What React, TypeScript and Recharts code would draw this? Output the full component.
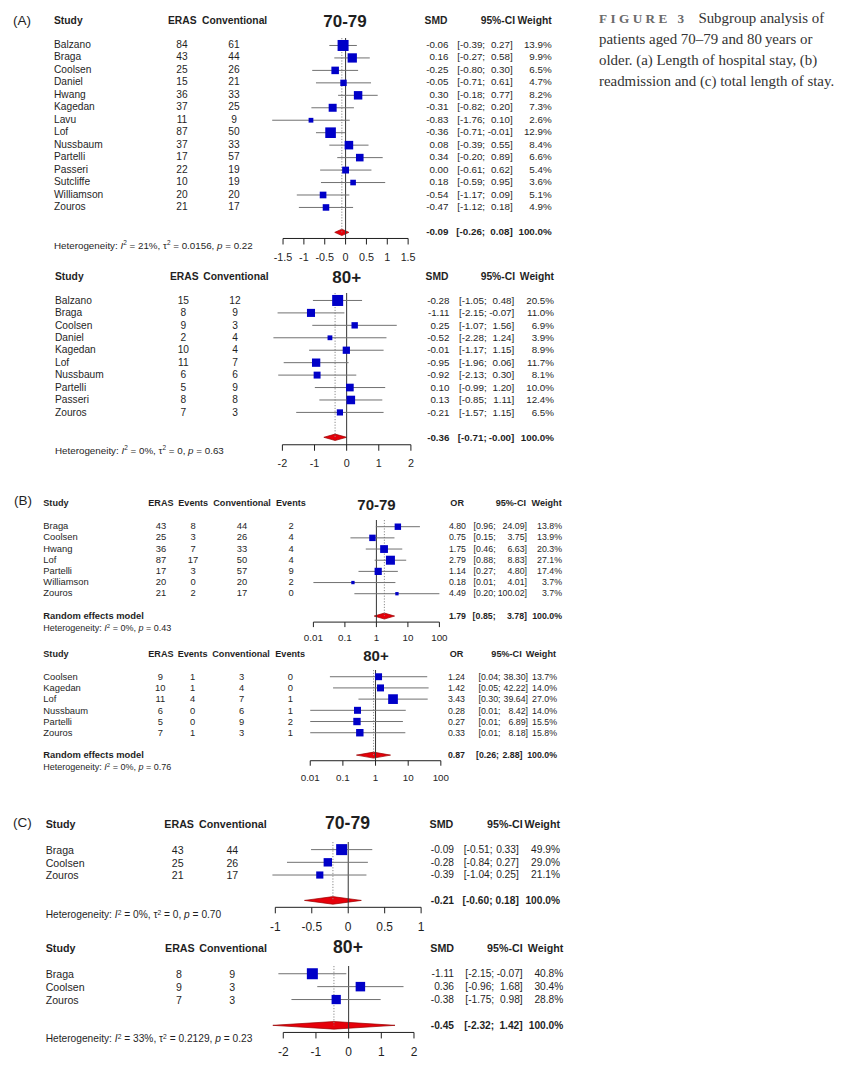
import { Fragment } from "react";
import { Area, ComposedChart, ReferenceLine, Scatter, XAxis, YAxis } from "recharts";

const SANS = '"Liberation Sans", Arial, Helvetica, sans-serif';
const SERIF = '"Liberation Serif", "Times New Roman", Times, serif';
const INK = "#1f1f1f";
const BLUE = "#0000c8";
const RED = "#e6000a";
const CI_GREY = "#707070";

// (A) length of hospital stay, 70-79
const A1_STUDY = ["Balzano", "Braga", "Coolsen", "Daniel", "Hwang", "Kagedan", "Lavu", "Lof", "Nussbaum", "Partelli", "Passeri", "Sutcliffe", "Williamson", "Zouros"];
const A1_ERAS = [84, 43, 25, 15, 36, 37, 11, 87, 37, 17, 22, 10, 20, 21];
const A1_CONV = [61, 44, 26, 21, 33, 25, 9, 50, 33, 57, 19, 19, 20, 17];
const A1_SMD = [-0.06, 0.16, -0.25, -0.05, 0.3, -0.31, -0.83, -0.36, 0.08, 0.34, 0.0, 0.18, -0.54, -0.47];
const A1_LO = [-0.39, -0.27, -0.8, -0.71, -0.18, -0.82, -1.76, -0.71, -0.39, -0.2, -0.61, -0.59, -1.17, -1.12];
const A1_HI = [0.27, 0.58, 0.3, 0.61, 0.77, 0.2, 0.1, -0.01, 0.55, 0.89, 0.62, 0.95, 0.09, 0.18];
const A1_WT = [13.9, 9.9, 6.5, 4.7, 8.2, 7.3, 2.6, 12.9, 8.4, 6.6, 5.4, 3.6, 5.1, 4.9];
const A1_POOLED = [-0.09, -0.26, 0.08];
const A1_HET = ["21%", "0.0156", "0.22"];
const A1_TICKS = [-1.5, -1, -0.5, 0, 0.5, 1, 1.5];

// (A) length of hospital stay, 80+
const A2_STUDY = ["Balzano", "Braga", "Coolsen", "Daniel", "Kagedan", "Lof", "Nussbaum", "Partelli", "Passeri", "Zouros"];
const A2_ERAS = [15, 8, 9, 2, 10, 11, 6, 5, 8, 7];
const A2_CONV = [12, 9, 3, 4, 4, 7, 6, 9, 8, 3];
const A2_SMD = [-0.28, -1.11, 0.25, -0.52, -0.01, -0.95, -0.92, 0.1, 0.13, -0.21];
const A2_LO = [-1.05, -2.15, -1.07, -2.28, -1.17, -1.96, -2.13, -0.99, -0.85, -1.57];
const A2_HI = [0.48, -0.07, 1.56, 1.24, 1.15, 0.06, 0.3, 1.2, 1.11, 1.15];
const A2_WT = [20.5, 11.0, 6.9, 3.9, 8.9, 11.7, 8.1, 10.0, 12.4, 6.5];
const A2_POOLED = [-0.36, -0.71, -0.0];
const A2_HET = ["0%", "0", "0.63"];
const A2_TICKS = [-2, -1, 0, 1, 2];

// (B) readmission, 70-79
const B1_STUDY = ["Braga", "Coolsen", "Hwang", "Lof", "Partelli", "Williamson", "Zouros"];
const B1_ERAS = [43, 25, 36, 87, 17, 20, 21];
const B1_ERAS_EV = [8, 3, 7, 17, 3, 0, 2];
const B1_CONV = [44, 26, 33, 50, 57, 20, 17];
const B1_CONV_EV = [2, 4, 4, 4, 9, 2, 0];
const B1_OR = [4.8, 0.75, 1.75, 2.79, 1.14, 0.18, 4.49];
const B1_LO = [0.96, 0.15, 0.46, 0.88, 0.27, 0.01, 0.2];
const B1_HI = [24.09, 3.75, 6.63, 8.83, 4.8, 4.01, 100.02];
const B1_WT = [13.8, 13.9, 20.3, 27.1, 17.4, 3.7, 3.7];
const B1_POOLED = [1.79, 0.85, 3.78];
const B1_HET = ["0%", null, "0.43"];
const B_TICKS = [0.01, 0.1, 1, 10, 100];

// (B) readmission, 80+
const B2_STUDY = ["Coolsen", "Kagedan", "Lof", "Nussbaum", "Partelli", "Zouros"];
const B2_ERAS = [9, 10, 11, 6, 5, 7];
const B2_ERAS_EV = [1, 1, 4, 0, 0, 1];
const B2_CONV = [3, 4, 7, 6, 9, 3];
const B2_CONV_EV = [0, 0, 1, 1, 2, 1];
const B2_OR = [1.24, 1.42, 3.43, 0.28, 0.27, 0.33];
const B2_LO = [0.04, 0.05, 0.3, 0.01, 0.01, 0.01];
const B2_HI = [38.3, 42.22, 39.64, 8.42, 6.89, 8.18];
const B2_WT = [13.7, 14.0, 27.0, 14.0, 15.5, 15.8];
const B2_POOLED = [0.87, 0.26, 2.88];
const B2_HET = ["0%", null, "0.76"];

// (C) total length of stay, 70-79
const C1_STUDY = ["Braga", "Coolsen", "Zouros"];
const C1_ERAS = [43, 25, 21];
const C1_CONV = [44, 26, 17];
const C1_SMD = [-0.09, -0.28, -0.39];
const C1_LO = [-0.51, -0.84, -1.04];
const C1_HI = [0.33, 0.27, 0.25];
const C1_WT = [49.9, 29.0, 21.1];
const C1_POOLED = [-0.21, -0.6, 0.18];
const C1_HET = ["0%", "0", "0.70"];
const C1_TICKS = [-1, -0.5, 0, 0.5, 1];

// (C) total length of stay, 80+
const C2_STUDY = ["Braga", "Coolsen", "Zouros"];
const C2_ERAS = [8, 9, 7];
const C2_CONV = [9, 3, 3];
const C2_SMD = [-1.11, 0.36, -0.38];
const C2_LO = [-2.15, -0.96, -1.75];
const C2_HI = [-0.07, 1.68, 0.98];
const C2_WT = [40.8, 30.4, 28.8];
const C2_POOLED = [-0.45, -2.32, 1.42];
const C2_HET = ["33%", "0.2129", "0.23"];
const C2_TICKS = [-2, -1, 0, 1, 2];

const fmt = (v: number) => (Object.is(v, -0) ? "-" : "") + v.toFixed(2);
const pct = (v: number) => v.toFixed(1) + "%";

function T({ x, y, s = 10, b = false, a = "start", c = INK, f = SANS, children }: any) {
  const tx = a === "end" ? "-100%" : a === "middle" ? "-50%" : "0";
  return (
    <div
      style={{
        position: "absolute",
        left: x,
        top: y,
        transform: `translate(${tx}, -50%)`,
        fontSize: s,
        fontWeight: b ? 700 : 400,
        color: c,
        fontFamily: f,
        lineHeight: 1,
        whiteSpace: "pre",
      }}
    >
      {children}
    </div>
  );
}

const sup = (t: string) => (
  <span style={{ fontSize: "0.66em", position: "relative", top: "-0.5em" }}>{t}</span>
);

function Het({ x, y, s, v }: any) {
  return (
    <T x={x} y={y} s={s}>
      {"Heterogeneity: "}
      <i>I</i>
      {sup("2")}
      {` = ${v[0]}, `}
      {v[1] != null && (
        <>
          {"τ"}
          {sup("2")}
          {` = ${v[1]}, `}
        </>
      )}
      <i>p</i>
      {` = ${v[2]}`}
    </T>
  );
}

function Forest({ L, title, study, cols, est, lo, hi, wt, pooled, ticks, effHead, nullAt, het, model }: any) {
  const tf = (v: number) => (L.log ? Math.log10(v) : v);
  const inv = (t: number) => (L.log ? Math.pow(10, t) : t);
  const t0 = tf(ticks[0]);
  const t1 = tf(ticks[ticks.length - 1]);
  const unit = (L.px1 - L.px0) / (t1 - t0);
  const pad = (t1 - t0) * 0.4;
  const chartLeft = L.px0 - pad * unit;
  const chartW = (t1 - t0 + 2 * pad) * unit;
  const yTop = -0.6;
  const yBot = (L.axisY - L.rowY0) / L.gap;
  const chartTop = L.rowY0 + yTop * L.gap;
  const plotH = L.axisY - chartTop;
  const AXH = 34;
  const wMax = Math.max(...wt);
  const pr = L.pooledRow;
  const dh = L.dh / L.gap;
  const rowY = (i: number) => L.rowY0 + i * L.gap;
  const py = rowY(pr);

  const boxes = est.map((x: number, i: number) => ({ x, y: i, w: wt[i] }));
  const diamond = [
    { x: pooled[1], r: [pr, pr] },
    { x: pooled[0], r: [pr - dh, pr + dh] },
    { x: pooled[2], r: [pr, pr] },
  ];
  const tickMargin = L.tickDy - L.tickSize - 0.352 * L.tickFs;

  return (
    <>
      <T x={L.studyX} y={L.headY} s={L.hs} b>Study</T>
      {cols.map((c: any) => (
        <T key={"h" + c.hx} x={c.hx} y={L.headY} s={L.hs} b>{c.head}</T>
      ))}
      <T x={L.titleX} y={L.headY} s={L.titleSize} b a="middle">{title}</T>
      <T x={L.estHX} y={L.headY} s={L.hs} b a="end">{effHead}</T>
      <T x={L.ciHX} y={L.headY} s={L.hs} b a="end">95%-CI</T>
      <T x={L.wtHX} y={L.headY} s={L.hs} b a="end">Weight</T>

      {study.map((name: string, i: number) => (
        <Fragment key={name}>
          <T x={L.studyX} y={rowY(i)} s={L.fs}>{name}</T>
          {cols.map((c: any) => (
            <T key={c.hx} x={c.x} y={rowY(i)} s={L.fs} a="middle">{c.vals[i]}</T>
          ))}
          <T x={L.estX} y={rowY(i)} s={L.rs} a="end">{fmt(est[i])}</T>
          <T x={L.loX} y={rowY(i)} s={L.rs} a="end">{`[${fmt(lo[i])};`}</T>
          <T x={L.hiX} y={rowY(i)} s={L.rs} a="end">{`${fmt(hi[i])}]`}</T>
          <T x={L.wtX} y={rowY(i)} s={L.rs} a="end">{pct(wt[i])}</T>
        </Fragment>
      ))}

      {model && <T x={L.studyX} y={py} s={L.fs} b>Random effects model</T>}
      <T x={L.estX} y={py} s={L.rs} b a="end">{fmt(pooled[0])}</T>
      <T x={L.ploX ?? L.loX} y={py} s={L.rs} b a="end">{`[${fmt(pooled[1])};`}</T>
      <T x={L.phiX ?? L.hiX} y={py} s={L.rs} b a="end">{`${fmt(pooled[2])}]`}</T>
      <T x={L.wtX} y={py} s={L.rs} b a="end">100.0%</T>
      <Het x={L.studyX} y={L.hetY} s={L.hetSize} v={het} />

      <div style={{ position: "absolute", left: chartLeft, top: chartTop }}>
        <ComposedChart width={chartW} height={plotH + AXH} margin={{ top: 0, right: 0, bottom: 0, left: 0 }}>
          <XAxis
            type="number"
            dataKey="x"
            scale={L.log ? "log" : "linear"}
            domain={[inv(t0 - pad), inv(t1 + pad)]}
            ticks={ticks}
            interval={0}
            height={AXH}
            axisLine={false}
            stroke={INK}
            tickLine={{ stroke: INK }}
            tickSize={L.tickSize}
            tickMargin={tickMargin}
            tick={{ fontSize: L.tickFs, fill: INK, fontFamily: SANS }}
            tickFormatter={(v: number) => String(v)}
          />
          <YAxis type="number" dataKey="y" domain={[yTop, yBot]} reversed hide />
          <ReferenceLine x={nullAt} stroke="#333" strokeWidth={1} ifOverflow="visible" />
          <ReferenceLine
            segment={[{ x: pooled[0], y: yTop }, { x: pooled[0], y: pr }]}
            stroke="#8a8a8a"
            strokeDasharray="1.2 1.6"
            ifOverflow="visible"
          />
          <ReferenceLine
            segment={[{ x: ticks[0], y: yBot }, { x: ticks[ticks.length - 1], y: yBot }]}
            stroke={INK}
            ifOverflow="visible"
          />
          {est.map((_: number, i: number) => (
            <ReferenceLine
              key={"ci" + i}
              segment={[{ x: lo[i], y: i }, { x: hi[i], y: i }]}
              stroke={CI_GREY}
              strokeWidth={1}
              ifOverflow="visible"
            />
          ))}
          <Area
            data={diamond}
            dataKey="r"
            type="linear"
            stroke="#9a0000"
            strokeWidth={0.7}
            fill={RED}
            fillOpacity={1}
            dot={false}
            activeDot={false}
            isAnimationActive={false}
          />
          <Scatter
            data={boxes}
            isAnimationActive={false}
            shape={(p: any) => {
              const side = L.boxMax * Math.sqrt(p.payload.w / wMax);
              return <rect x={p.cx - side / 2} y={p.cy - side / 2} width={side} height={side} fill={BLUE} />;
            }}
          />
        </ComposedChart>
      </div>
    </>
  );
}

const A1_L = {
  headY: 20.7, studyX: 54, titleX: 345, titleSize: 17, hs: 10.3, fs: 10.2, rs: 9.8,
  rowY0: 45, gap: 12.46, pooledRow: 15, axisY: 238, dh: 3.2,
  hetY: 245.5, hetSize: 9.8,
  px0: 282.7, px1: 407.8, tickDy: 19, tickSize: 6, tickFs: 10.8,
  estX: 448.5, loX: 485.1, hiX: 512.7, wtX: 551.7, estHX: 447.5, ciHX: 515, wtHX: 551.7,
  boxMax: 11,
};
const A2_L = {
  ...A1_L,
  headY: 277, studyX: 55, titleX: 346.7,
  rowY0: 300.7, gap: 12.44, pooledRow: 11, axisY: 445,
  hetY: 450.7,
  px0: 282.5, px1: 411, tickDy: 18,
  estX: 449.5, loX: 486.7, hiX: 514.3, wtX: 554, estHX: 448.5, ciHX: 515, wtHX: 554,
};
const B1_L = {
  headY: 504, studyX: 43.3, titleX: 376.5, titleSize: 15, hs: 9.1, fs: 9.4, rs: 8.8,
  rowY0: 526.3, gap: 11.17, pooledRow: 8, axisY: 621.7, dh: 3,
  hetY: 627.5, hetSize: 9,
  log: true, px0: 313.3, px1: 439.3, tickDy: 15.6, tickSize: 5, tickFs: 9.8,
  estX: 466, loX: 495.6, hiX: 527, wtX: 562, estHX: 464, ciHX: 526, wtHX: 561.7,
  boxMax: 9,
};
const B2_L = {
  ...B1_L,
  headY: 655, titleX: 376,
  rowY0: 677, gap: 11.2, pooledRow: 7, axisY: 761,
  hetY: 767,
  px0: 310.7, px1: 441.3, tickDy: 16.3,
  estX: 465, loX: 500.5, hiX: 528, wtX: 557, estHX: 463.3, ciHX: 521.7, wtHX: 556,
  ploX: 499, phiX: 522.5,
  boxMax: 9.7,
};
const C1_L = {
  headY: 824, studyX: 45.7, titleX: 347.5, titleSize: 17.6, hs: 10.7, fs: 10.6, rs: 10.2,
  rowY0: 850, gap: 12.7, pooledRow: 4, axisY: 907.7, dh: 3.8,
  hetY: 915, hetSize: 10.2,
  px0: 275, px1: 420.8, tickDy: 19, tickSize: 6, tickFs: 12,
  estX: 454, loX: 492.6, hiX: 518.8, wtX: 560, estHX: 453.3, ciHX: 522.7, wtHX: 560,
  boxMax: 11,
};
const C2_L = {
  ...C1_L,
  headY: 947.7, titleX: 348,
  rowY0: 974, gap: 12.9, pooledRow: 4, axisY: 1032.7,
  hetY: 1039.3,
  px0: 283.3, px1: 414, tickDy: 19,
  estX: 454, loX: 494.2, hiX: 522.7, wtX: 563.3, estHX: 454, ciHX: 522.7, wtHX: 563.3,
};

export default function App() {
  return (
    <div
      style={{
        position: "absolute",
        left: 0,
        top: 0,
        width: 852,
        height: 1071,
        background: "#fff",
        overflow: "hidden",
        fontFamily: SANS,
      }}
    >
      <T x={13} y={21} s={13.5}>(A)</T>
      <Forest
        L={A1_L} title="70-79" study={A1_STUDY} est={A1_SMD} lo={A1_LO} hi={A1_HI} wt={A1_WT}
        pooled={A1_POOLED} ticks={A1_TICKS} effHead="SMD" nullAt={0} het={A1_HET}
        cols={[
          { head: "ERAS", hx: 168, x: 182, vals: A1_ERAS },
          { head: "Conventional", hx: 202, x: 234, vals: A1_CONV },
        ]}
      />
      <Forest
        L={A2_L} title="80+" study={A2_STUDY} est={A2_SMD} lo={A2_LO} hi={A2_HI} wt={A2_WT}
        pooled={A2_POOLED} ticks={A2_TICKS} effHead="SMD" nullAt={0} het={A2_HET}
        cols={[
          { head: "ERAS", hx: 170, x: 183.3, vals: A2_ERAS },
          { head: "Conventional", hx: 203.3, x: 235, vals: A2_CONV },
        ]}
      />

      <T x={14} y={500.7} s={13.5}>(B)</T>
      <Forest
        L={B1_L} title="70-79" study={B1_STUDY} est={B1_OR} lo={B1_LO} hi={B1_HI} wt={B1_WT}
        pooled={B1_POOLED} ticks={B_TICKS} effHead="OR" nullAt={1} het={B1_HET} model
        cols={[
          { head: "ERAS", hx: 148.3, x: 161, vals: B1_ERAS },
          { head: "Events", hx: 178.3, x: 193, vals: B1_ERAS_EV },
          { head: "Conventional", hx: 213.3, x: 242, vals: B1_CONV },
          { head: "Events", hx: 276, x: 291, vals: B1_CONV_EV },
        ]}
      />
      <Forest
        L={B2_L} title="80+" study={B2_STUDY} est={B2_OR} lo={B2_LO} hi={B2_HI} wt={B2_WT}
        pooled={B2_POOLED} ticks={B_TICKS} effHead="OR" nullAt={1} het={B2_HET} model
        cols={[
          { head: "ERAS", hx: 148.3, x: 160.3, vals: B2_ERAS },
          { head: "Events", hx: 177.7, x: 192.7, vals: B2_ERAS_EV },
          { head: "Conventional", hx: 212.3, x: 241.7, vals: B2_CONV },
          { head: "Events", hx: 275.3, x: 290.3, vals: B2_CONV_EV },
        ]}
      />

      <T x={13} y={823} s={13.5}>(C)</T>
      <Forest
        L={C1_L} title="70-79" study={C1_STUDY} est={C1_SMD} lo={C1_LO} hi={C1_HI} wt={C1_WT}
        pooled={C1_POOLED} ticks={C1_TICKS} effHead="SMD" nullAt={0} het={C1_HET}
        cols={[
          { head: "ERAS", hx: 164.3, x: 177.7, vals: C1_ERAS },
          { head: "Conventional", hx: 199, x: 232.3, vals: C1_CONV },
        ]}
      />
      <Forest
        L={C2_L} title="80+" study={C2_STUDY} est={C2_SMD} lo={C2_LO} hi={C2_HI} wt={C2_WT}
        pooled={C2_POOLED} ticks={C2_TICKS} effHead="SMD" nullAt={0} het={C2_HET}
        cols={[
          { head: "ERAS", hx: 165, x: 179, vals: C2_ERAS },
          { head: "Conventional", hx: 199.3, x: 232.3, vals: C2_CONV },
        ]}
      />

      <div
        style={{
          position: "absolute",
          left: 599,
          top: 7.7,
          fontFamily: SERIF,
          fontSize: 14.9,
          lineHeight: "20.7px",
          color: "#333",
          whiteSpace: "nowrap",
        }}
      >
        <span style={{ letterSpacing: 3.4, fontWeight: 700, color: "#6a6a6a", fontSize: 13.2 }}>FIGURE 3</span>
        <span style={{ marginLeft: 11 }}>Subgroup analysis of</span>
        <br />
        patients aged 70–79 and 80{"\u2009"}years or
        <br />
        older. (a) Length of hospital stay, (b)
        <br />
        readmission and (c) total length of stay.
      </div>
    </div>
  );
}
